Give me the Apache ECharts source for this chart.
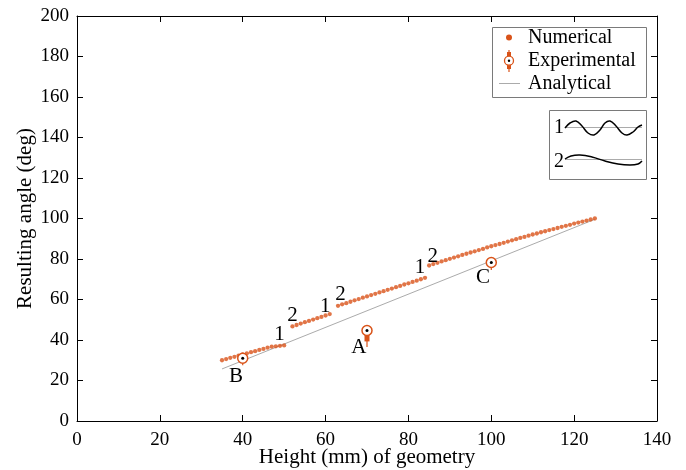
<!DOCTYPE html>
<html><head><meta charset="utf-8">
<script src="https://cdn.jsdelivr.net/npm/echarts/dist/echarts.min.js"></script>
<style>html,body{margin:0;padding:0;background:#fff}#c{width:686px;height:470px}</style>
</head><body><div id="c"></div>
<script>
// ---- tick labels ----
const xTicks = [0, 20, 40, 60, 80, 100, 120, 140];
const yTicks = [0, 20, 40, 60, 80, 100, 120, 140, 160, 180, 200];

// ---- Numerical (four segments) ----
const seg1X = [35, 36, 37, 38, 39, 40, 41, 42, 43, 44, 45, 46, 47, 48, 49, 50];
const seg1Y = [30.0, 30.6, 31.2, 31.7, 32.3, 32.9, 33.4, 34.0, 34.5, 35.1, 35.6, 36.2, 36.7, 36.9, 37.1, 37.3];
const seg2X = [52, 53, 54, 55, 56, 57, 58, 59, 60, 61];
const seg2Y = [46.7, 47.4, 48.1, 48.8, 49.4, 50.1, 50.8, 51.4, 52.1, 52.8];
const seg3X = [63, 64, 65, 66, 67, 68, 69, 70, 71, 72, 73, 74, 75, 76, 77, 78, 79, 80, 81, 82, 83, 84];
const seg3Y = [56.9, 57.6, 58.2, 58.9, 59.6, 60.2, 60.9, 61.5, 62.2, 62.8, 63.5, 64.1, 64.8, 65.4, 66.1, 66.7, 67.4, 68.0, 68.7, 69.3, 70.0, 70.7];
const seg4X = [85, 86, 87, 88, 89, 90, 91, 92, 93, 94, 95, 96, 97, 98, 99, 100, 101, 102, 103, 104, 105,
               106, 107, 108, 109, 110, 111, 112, 113, 114, 115, 116, 117, 118, 119, 120, 121, 122, 123, 124, 125];
const seg4Y = [76.8, 77.5, 78.1, 78.8, 79.4, 80.1, 80.7, 81.3, 82.0, 82.6, 83.2, 83.8, 84.4, 85.0, 85.7, 86.3, 86.9, 87.4, 88.0, 88.6, 89.2,
               89.8, 90.4, 90.9, 91.5, 92.1, 92.6, 93.2, 93.7, 94.3, 94.8, 95.3, 95.9, 96.4, 96.9, 97.5, 98.0, 98.5, 99.0, 99.5, 100.0];

// ---- Analytical ----
const analyticalX = [35, 125];
const analyticalY = [25.7, 99.6];

// ---- Experimental (B, A, C) ----
const expNames = ['B', 'A', 'C'];
const expX = [40, 70, 100];
const expY = [31.0, 44.7, 78.3];
const expBoxLo = [29.5, 39.3, 77.0];
const expBoxHi = [32.5, 46.5, 79.5];
const expWhiskLo = [27.5, 36.6, 74.6];
const expWhiskHi = [33.5, 47.0, 80.0];

// ---- annotations ----
const annoText = ['1', '2', '1', '2', '1', '2', 'A', 'B', 'C'];
const annoX = [48.9, 52.0, 59.9, 63.6, 82.8, 85.9, 68.0, 38.4, 98.0];
const annoY = [42.6, 52.0, 56.5, 62.5, 75.9, 81.1, 36.2, 22.1, 71.0];

const ORANGE = '#D95319';
const GRAYLINE = '#ababab';
const serif = '"Liberation Serif","Times New Roman",serif';

function zip(xs, ys) { return xs.map((x, i) => [x, ys[i]]); }
const numericalData = [].concat(zip(seg1X, seg1Y), zip(seg2X, seg2Y), zip(seg3X, seg3Y), zip(seg4X, seg4Y));
const expData = expX.map((x, i) => [x, expY[i], expBoxLo[i], expBoxHi[i], expWhiskLo[i], expWhiskHi[i]]);
const annoData = annoX.map((x, i) => [x, annoY[i], i]);

const chart = echarts.init(document.getElementById('c'), null, { renderer: 'canvas' });

const baseAxis = {
  type: 'value',
  splitLine: { show: false },
  axisLine: { show: true, onZero: false, lineStyle: { color: '#000', width: 1 } },
  axisTick: { show: true, inside: true, length: 6, lineStyle: { color: '#000', width: 1 } }
};

const xMin = xTicks[0], xMax = xTicks[xTicks.length - 1], xInt = xTicks[1] - xTicks[0];
const yMin = yTicks[0], yMax = yTicks[yTicks.length - 1], yInt = yTicks[1] - yTicks[0];

const option = {
  animation: false,
  backgroundColor: '#fff',
  grid: { left: 77, right: 29, top: 16, bottom: 49, containLabel: false, outerBoundsMode: 'none' },
  xAxis: [
    Object.assign({}, baseAxis, {
      min: xMin, max: xMax, interval: xInt, position: 'bottom',
      axisLabel: { color: '#000', fontFamily: serif, fontSize: 19, margin: 10 },
      name: 'Height (mm) of geometry', nameLocation: 'middle', nameGap: 26, nameMoveOverlap: false,
      nameTextStyle: { color: '#000', fontFamily: serif, fontSize: 21 }
    }),
    Object.assign({}, baseAxis, {
      min: xMin, max: xMax, interval: xInt, position: 'top',
      axisLabel: { show: false }
    })
  ],
  yAxis: [
    Object.assign({}, baseAxis, {
      min: yMin, max: yMax, interval: yInt, position: 'left',
      axisLabel: { color: '#000', fontFamily: serif, fontSize: 19, margin: 8 },
      name: 'Resulting angle (deg)', nameLocation: 'middle', nameGap: 41, nameMoveOverlap: false,
      nameTextStyle: { color: '#000', fontFamily: serif, fontSize: 21 }
    }),
    Object.assign({}, baseAxis, {
      min: yMin, max: yMax, interval: yInt, position: 'right',
      axisLabel: { show: false }
    })
  ],
  series: [
    {
      name: 'Analytical', type: 'line', xAxisIndex: 0, yAxisIndex: 0,
      data: zip(analyticalX, analyticalY), symbol: 'none', silent: true, z: 1,
      lineStyle: { color: GRAYLINE, width: 1 }
    },
    {
      name: 'Numerical', type: 'scatter', xAxisIndex: 0, yAxisIndex: 0,
      data: numericalData, symbol: 'circle', symbolSize: 4.3, z: 2,
      itemStyle: { color: ORANGE }
    },
    {
      name: 'Experimental', type: 'custom', xAxisIndex: 0, yAxisIndex: 0, z: 3,
      data: expData,
      renderItem: function (params, api) {
        const x = api.value(0), y = api.value(1);
        const c = api.coord([x, y]);
        const bLo = api.coord([x, api.value(2)]), bHi = api.coord([x, api.value(3)]);
        const wLo = api.coord([x, api.value(4)]), wHi = api.coord([x, api.value(5)]);
        return {
          type: 'group',
          children: [
            { type: 'line', shape: { x1: c[0], y1: wLo[1], x2: c[0], y2: wHi[1] },
              style: { stroke: ORANGE, lineWidth: 1.2 } },
            { type: 'rect', shape: { x: c[0] - 2.5, y: bHi[1], width: 5, height: bLo[1] - bHi[1] },
              style: { fill: ORANGE } },
            { type: 'circle', shape: { cx: c[0], cy: c[1], r: 5 },
              style: { fill: '#fff', stroke: ORANGE, lineWidth: 1.5 } },
            { type: 'circle', shape: { cx: c[0], cy: c[1], r: 1.5 },
              style: { fill: '#000' } }
          ]
        };
      }
    },
    {
      name: 'labels', type: 'custom', xAxisIndex: 0, yAxisIndex: 0, z: 4, silent: true,
      data: annoData,
      renderItem: function (params, api) {
        const p = api.coord([api.value(0), api.value(1)]);
        return {
          type: 'text', x: p[0], y: p[1],
          style: { text: annoText[api.value(2)], fill: '#000', font: '21px ' + serif,
                   align: 'center', verticalAlign: 'middle' }
        };
      }
    }
  ],
  graphic: [
    // legend
    { type: 'rect', shape: { x: 492.5, y: 27.5, width: 154, height: 70 },
      style: { fill: '#fff', stroke: '#7a7a7a', lineWidth: 1 }, z: 10 },
    { type: 'circle', shape: { cx: 509, cy: 37.5, r: 3 }, style: { fill: ORANGE }, z: 11 },
    { type: 'text', x: 528, y: 37.5, style: { text: 'Numerical', font: '20px ' + serif, fill: '#000', textVerticalAlign: 'middle', verticalAlign: 'middle' }, z: 11 },
    { type: 'line', shape: { x1: 509, y1: 50, x2: 509, y2: 72 }, style: { stroke: ORANGE, lineWidth: 1.2 }, z: 11 },
    { type: 'rect', shape: { x: 507, y: 52, width: 4, height: 17 }, style: { fill: ORANGE }, z: 11 },
    { type: 'circle', shape: { cx: 509, cy: 60.7, r: 4.5 }, style: { fill: '#fff', stroke: ORANGE, lineWidth: 1.3 }, z: 12 },
    { type: 'circle', shape: { cx: 509, cy: 60.7, r: 1.2 }, style: { fill: '#000' }, z: 13 },
    { type: 'text', x: 528, y: 60.7, style: { text: 'Experimental', font: '20px ' + serif, fill: '#000', textVerticalAlign: 'middle', verticalAlign: 'middle' }, z: 11 },
    { type: 'line', shape: { x1: 499, y1: 83.5, x2: 520, y2: 83.5 }, style: { stroke: GRAYLINE, lineWidth: 1 }, z: 11 },
    { type: 'text', x: 528, y: 83.3, style: { text: 'Analytical', font: '20px ' + serif, fill: '#000', textVerticalAlign: 'middle', verticalAlign: 'middle' }, z: 11 },
    // inset schematic
    { type: 'rect', shape: { x: 549.5, y: 110.5, width: 97, height: 69 },
      style: { fill: '#fff', stroke: '#7a7a7a', lineWidth: 1 }, z: 10 },
    { type: 'text', x: 559, y: 128, style: { text: '1', font: '20px ' + serif, fill: '#000', textAlign: 'center', align: 'center', textVerticalAlign: 'middle', verticalAlign: 'middle' }, z: 11 },
    { type: 'text', x: 559, y: 162, style: { text: '2', font: '20px ' + serif, fill: '#000', textAlign: 'center', align: 'center', textVerticalAlign: 'middle', verticalAlign: 'middle' }, z: 11 },
    { type: 'line', shape: { x1: 565, y1: 127.5, x2: 642, y2: 127.5 }, style: { stroke: GRAYLINE, lineWidth: 1 }, z: 11 },
    { type: 'polyline', shape: { smooth: 0.4, points: [[565, 128], [570, 123], [576, 121], [582, 126], [588, 133], [594, 135], [600, 130], [605, 123], [610, 121], [616, 126], [622, 133], [627, 135], [633, 132], [638, 127], [642, 125]] },
      style: { stroke: '#000', lineWidth: 1.5, fill: null }, z: 12 },
    { type: 'line', shape: { x1: 565, y1: 159.5, x2: 642, y2: 159.5 }, style: { stroke: GRAYLINE, lineWidth: 1 }, z: 11 },
    { type: 'polyline', shape: { smooth: 0.4, points: [[565, 159], [571, 156], [580, 155], [592, 157], [605, 161], [618, 164], [630, 165], [638, 164], [642, 161]] },
      style: { stroke: '#000', lineWidth: 1.5, fill: null }, z: 12 }
  ]
};
chart.setOption(option);
</script>
</body></html>
